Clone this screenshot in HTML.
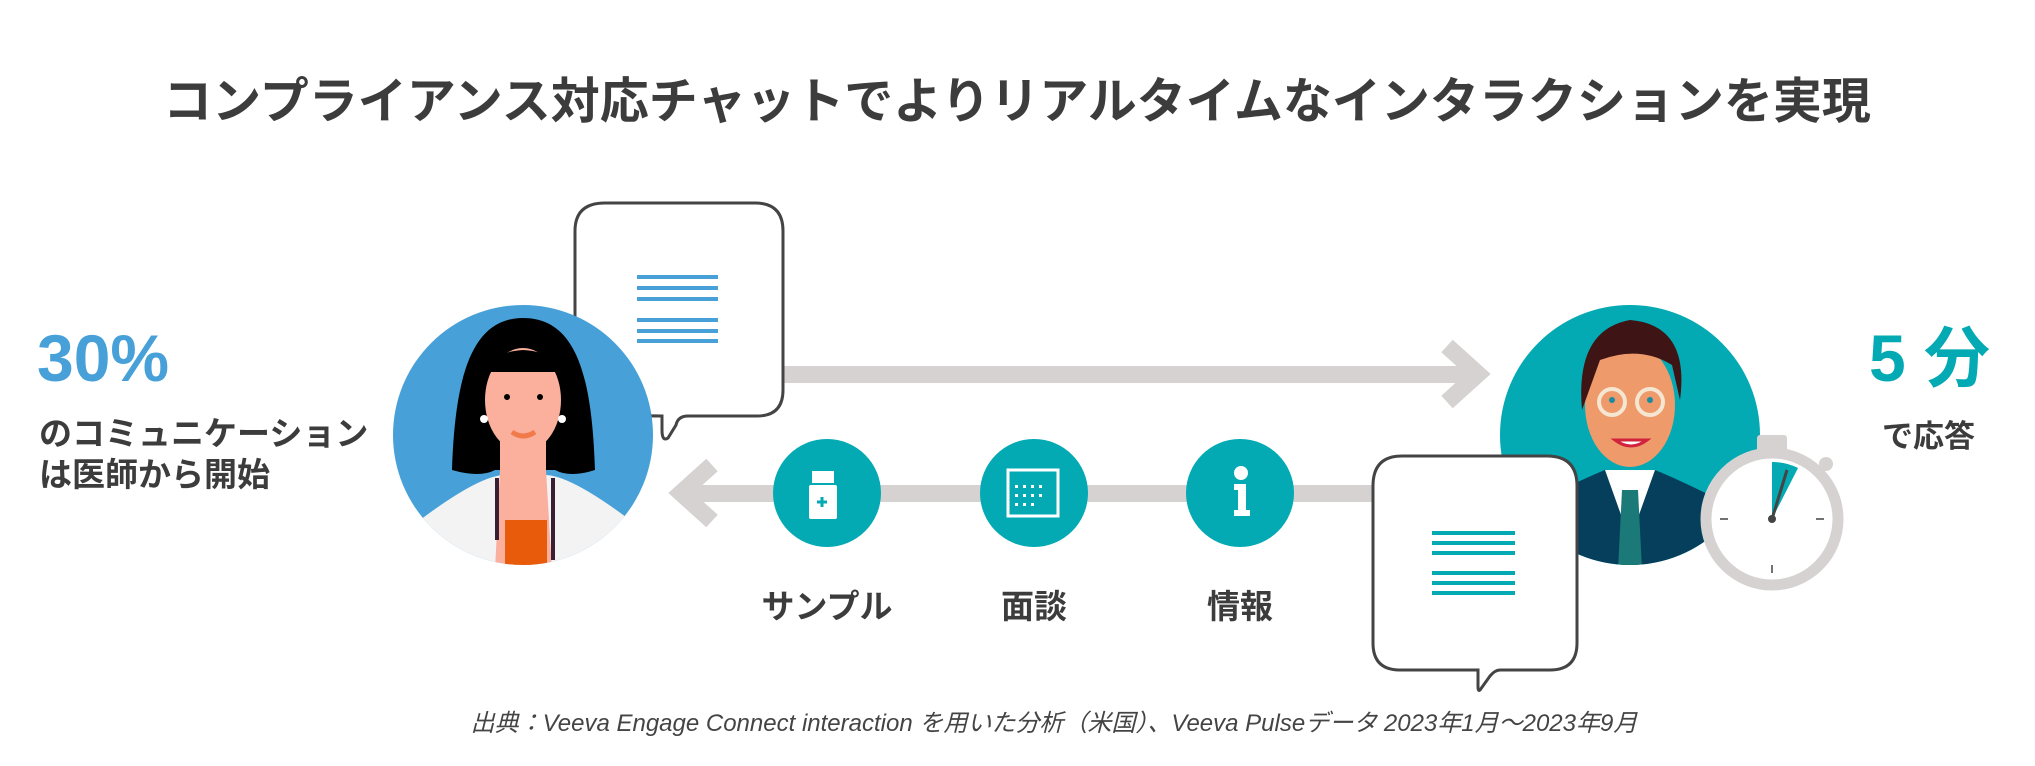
<!DOCTYPE html>
<html><head><meta charset="utf-8"><style>
body{margin:0;width:2035px;height:766px;background:#fff;overflow:hidden;font-family:"Liberation Sans","Noto Sans CJK JP",sans-serif;}
svg{position:absolute;left:0;top:0}
text{font-family:"Liberation Sans","Noto Sans CJK JP",sans-serif;}
</style></head><body>
<svg width="2035" height="766" viewBox="0 0 2035 766">
<text x="1017" y="118" text-anchor="middle" font-size="49" font-weight="bold" fill="#3c3c3c">コンプライアンス対応チャットでよりリアルタイムなインタラクションを実現</text>
<!-- top arrow -->
<rect x="780" y="366" width="700" height="17" fill="#d6d2d2"/>
<polyline points="1447,346 1478,374 1447,402" fill="none" stroke="#d6d2d2" stroke-width="17"/>
<!-- bottom arrow -->
<rect x="680" y="485" width="700" height="17" fill="#d6d2d2"/>
<polyline points="712,465 681,493 712,521" fill="none" stroke="#d6d2d2" stroke-width="17"/>
<!-- bubble 1 -->
<path d="M605,203 H755 Q783,203 783,231 V390 Q783,416 757,416 H688 Q678,416 676,425 L668,438 Q662,442 662,430 V416 Q575,416 575,390 V231 Q575,203 605,203Z" fill="#fff" stroke="#444" stroke-width="3"/>
<g stroke="#47a0d8" stroke-width="4"><line x1="637" y1="277" x2="718" y2="277"/><line x1="637" y1="288" x2="718" y2="288"/><line x1="637" y1="299" x2="718" y2="299"/><line x1="637" y1="320" x2="718" y2="320"/><line x1="637" y1="331" x2="718" y2="331"/><line x1="637" y1="341" x2="718" y2="341"/></g>
<!-- doctor woman -->
<defs><clipPath id="c1"><circle cx="523" cy="435" r="130"/></clipPath><clipPath id="c2"><circle cx="1630" cy="435" r="130"/></clipPath></defs>
<circle cx="523" cy="435" r="130" fill="#47a0d8"/>
<g clip-path="url(#c1)">
<path d="M523,318 C470,318 455,380 452,470 Q480,478 495,470 L555,470 Q570,478 595,470 C592,380 578,318 523,318Z" fill="#000"/>
<rect x="500" y="440" width="46" height="60" fill="#fbb09e"/>
<path d="M420,520 Q480,475 505,475 L545,475 Q570,475 630,520 V570 H420Z" fill="#f3f3f3"/>
<path d="M500,470 L546,470 L552,570 H495Z" fill="#fbb09e"/>
<rect x="505" y="520" width="42" height="50" fill="#e85b0a"/>
<path d="M497,478 V540 M553,478 V560" stroke="#3a1f33" stroke-width="4" fill="none"/>
<ellipse cx="523" cy="400" rx="38" ry="52" fill="#fbb09e"/>
<path d="M483,385 Q485,352 523,350 Q563,352 565,385 L560,372 L488,372Z" fill="#000"/>
<circle cx="507" cy="397" r="3" fill="#000"/><circle cx="540" cy="397" r="3" fill="#000"/>
<path d="M512,432 Q523,440 535,432" stroke="#f07a4a" stroke-width="5" fill="none"/>
<circle cx="484" cy="419" r="4" fill="#fff"/><circle cx="562" cy="419" r="4" fill="#fff"/>
</g>
<!-- icons -->
<circle cx="827" cy="493" r="54" fill="#03a9b3"/>
<circle cx="1034" cy="493" r="54" fill="#03a9b3"/>
<circle cx="1240" cy="493" r="54" fill="#03a9b3"/>
<rect x="812" y="471" width="22" height="12" fill="#fff"/><rect x="809" y="485" width="28" height="34" rx="2" fill="#fff"/>
<path d="M817,502 h10 M822,497 v10" stroke="#03a9b3" stroke-width="3"/>
<rect x="1008" y="470" width="50" height="46" fill="none" stroke="#fff" stroke-width="3"/>
<g fill="#fff"><rect x="1015" y="485" width="3" height="3"/><rect x="1023" y="485" width="3" height="3"/><rect x="1031" y="485" width="3" height="3"/><rect x="1039" y="485" width="3" height="3"/><rect x="1015" y="494" width="3" height="3"/><rect x="1023" y="494" width="3" height="3"/><rect x="1031" y="494" width="3" height="3"/><rect x="1039" y="494" width="3" height="3"/><rect x="1015" y="503" width="3" height="3"/><rect x="1023" y="503" width="3" height="3"/><rect x="1031" y="503" width="3" height="3"/></g>
<circle cx="1241" cy="473" r="7" fill="#fff"/><path d="M1234,484 h12 v26 h4 v6 h-16 v-6 h4 v-20 h-4z" fill="#fff"/>
<text x="827" y="618" text-anchor="middle" font-size="33" font-weight="bold" fill="#3c3c3c">サンプル</text>
<text x="1034" y="618" text-anchor="middle" font-size="33" font-weight="bold" fill="#3c3c3c">面談</text>
<text x="1240" y="618" text-anchor="middle" font-size="33" font-weight="bold" fill="#3c3c3c">情報</text>
<!-- man -->
<circle cx="1630" cy="435" r="130" fill="#03a9b3"/>
<g clip-path="url(#c2)">
<path d="M1520,510 Q1580,480 1605,470 L1655,470 Q1680,480 1740,510 V570 H1520Z" fill="#063f5c"/>
<path d="M1605,470 L1630,540 L1655,470Z" fill="#fff"/>
<path d="M1622,490 h16 l4,80 h-24z" fill="#1b7a78"/>
<ellipse cx="1630" cy="405" rx="45" ry="62" fill="#ee9a6b"/>
<path d="M1582,410 Q1575,330 1630,320 Q1690,325 1680,400 L1672,365 Q1640,345 1600,360Z" fill="#3e1414"/>
<circle cx="1612" cy="402" r="13" fill="none" stroke="#f5e6d2" stroke-width="4"/>
<circle cx="1650" cy="402" r="13" fill="none" stroke="#f5e6d2" stroke-width="4"/>
<circle cx="1612" cy="400" r="3" fill="#1a8aa0"/><circle cx="1650" cy="400" r="3" fill="#1a8aa0"/>
<path d="M1615,440 Q1631,452 1647,440Z" fill="#fff" stroke="#d2233c" stroke-width="3"/>
</g>
<!-- stopwatch -->
<rect x="1757" y="435" width="30" height="18" rx="3" fill="#d6d2d2"/>
<rect x="1765" y="450" width="14" height="15" fill="#d6d2d2"/>
<circle cx="1826" cy="464" r="7" fill="#d6d2d2"/>
<circle cx="1772" cy="519" r="66" fill="#fff" stroke="#d6d2d2" stroke-width="11"/>
<path d="M1772,519 L1772,462 A57,57 0 0 1 1798,468Z" fill="#03a9b3"/>
<line x1="1772" y1="519" x2="1787" y2="470" stroke="#444" stroke-width="3"/>
<circle cx="1772" cy="519" r="4" fill="#444"/>
<g stroke="#444" stroke-width="1.5"><line x1="1720" y1="519" x2="1728" y2="519"/><line x1="1816" y1="519" x2="1824" y2="519"/><line x1="1772" y1="565" x2="1772" y2="573"/></g>
<!-- bubble 2 -->
<path d="M1402,456 H1547 Q1577,456 1577,486 V643 Q1577,670 1550,670 H1500 Q1495,670 1490,676 L1480,690 Q1478,692 1478,686 V670 H1400 Q1373,670 1373,643 V486 Q1373,456 1402,456Z" fill="#fff" stroke="#444" stroke-width="3"/>
<g stroke="#03a9b3" stroke-width="4"><line x1="1432" y1="533" x2="1515" y2="533"/><line x1="1432" y1="543" x2="1515" y2="543"/><line x1="1432" y1="553" x2="1515" y2="553"/><line x1="1432" y1="573" x2="1515" y2="573"/><line x1="1432" y1="583" x2="1515" y2="583"/><line x1="1432" y1="593" x2="1515" y2="593"/></g>
<!-- side texts -->
<text x="37" y="381" font-size="66" font-weight="bold" fill="#47a0d8">30%</text>
<text x="39" y="445" font-size="33" font-weight="bold" fill="#3c3c3c">のコミュニケーション</text>
<text x="39" y="486" font-size="33" font-weight="bold" fill="#3c3c3c">は医師から開始</text>
<text x="1869" y="381" font-size="66" font-weight="bold" fill="#03a9b3">5 分</text>
<text x="1882" y="447" font-size="31" font-weight="bold" fill="#3c3c3c">で応答</text>
<text x="1054" y="731" text-anchor="middle" font-size="24" font-style="italic" fill="#444">出典：Veeva Engage Connect interaction を用いた分析（米国）、Veeva Pulseデータ 2023年1月～2023年9月</text>
</svg>
</body></html>
